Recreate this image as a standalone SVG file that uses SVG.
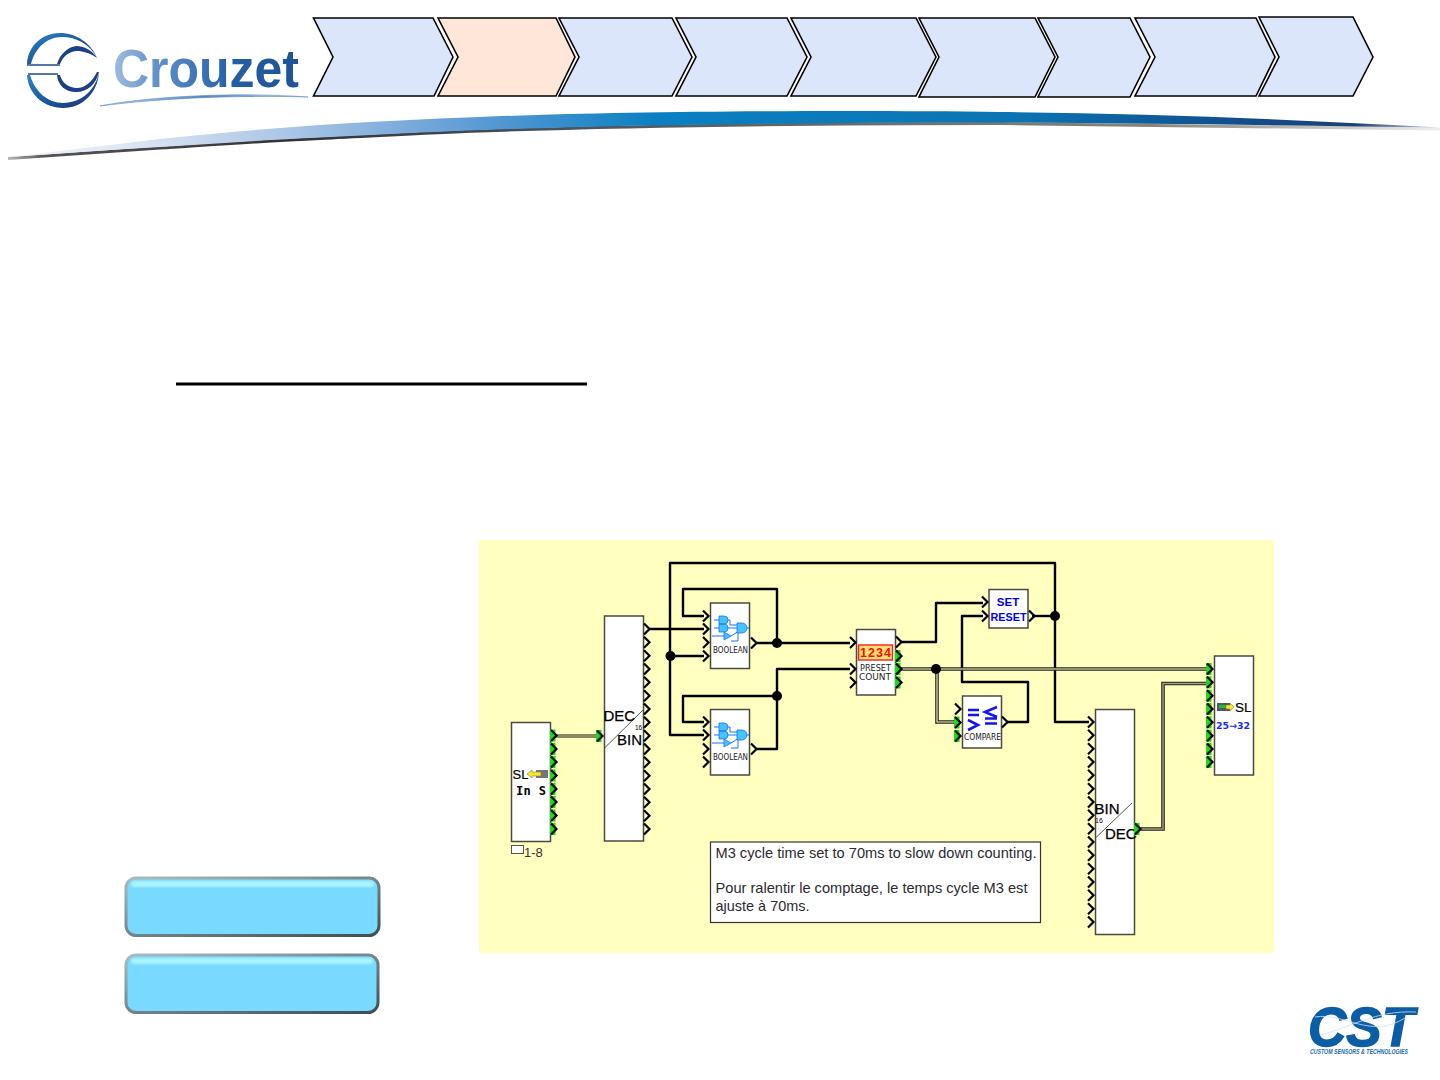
<svg xmlns="http://www.w3.org/2000/svg" width="1440" height="1080" viewBox="0 0 1440 1080">
<style>
text{font-family:"Liberation Sans",Arial,sans-serif;fill:#000}
.chev{stroke:#000;stroke-width:1.6;stroke-linejoin:miter}
.blue{fill:#DCE6FA}.peach{fill:#FEE6D9}
.blk{fill:#fff;stroke:#4a4a40;stroke-width:1.5}
.w{fill:none;stroke:#000;stroke-width:2.4;stroke-linejoin:round}
.do{fill:none;stroke:#222;stroke-width:3.6}
.dy{fill:none;stroke:#FFFFC0;stroke-width:1.1}
.dg{fill:none;stroke:#a0a078;stroke-width:1.5}
.j{fill:#000}
.ln{stroke:#555;stroke-width:1;fill:none}
.g{fill:none;stroke:#1a70ff;stroke-width:1}
.gf{fill:#45c4f8;stroke:#1a70ff;stroke-width:.8}
.bl{fill:#0000f0;font-weight:bold}
.big{font-size:15px;stroke:#000;stroke-width:.25}
.tiny{font-family:"DejaVu Sans",sans-serif;font-size:8px;fill:#222}
.note{font-size:14.3px;fill:#2a2a30}
.cmp{fill:none;stroke:#1414f0;stroke-width:2.6}
</style>
<defs>
<path id="p" d="M-3,-5.500 L2.500,0 L-3,5.500" fill="none" stroke="#000" stroke-width="2.200"/>
<g id="pg"><rect x="-4" y="-6" width="5.500" height="12" fill="#12e012"/><path d="M-3,-5.500 L2.500,0 L-3,5.500" fill="none" stroke="#000" stroke-width="2.200"/></g>
<linearGradient id="sw" x1="0" x2="1" y1="0" y2="0">
<stop offset="0" stop-color="#f4f6fa"/><stop offset=".08" stop-color="#dfe7f4"/><stop offset=".2" stop-color="#a9c4e6"/><stop offset=".33" stop-color="#5b9ad4"/><stop offset=".45" stop-color="#0a80c2"/><stop offset=".7" stop-color="#0b74b4"/><stop offset=".85" stop-color="#11508f"/><stop offset=".94" stop-color="#1c3f78"/><stop offset="1" stop-color="#d0d4dc"/>
</linearGradient>
<linearGradient id="sh" gradientUnits="userSpaceOnUse" x1="0" y1="0" x2="1440" y2="0">
<stop offset="0" stop-color="#ccc"/><stop offset=".03" stop-color="#555"/><stop offset=".2" stop-color="#333"/><stop offset=".4" stop-color="#4a5560"/><stop offset=".8" stop-color="#8a8478"/><stop offset="1" stop-color="#eee"/>
</linearGradient>
<filter id="soft" filterUnits="userSpaceOnUse" x="0" y="100" width="1440" height="70"><feGaussianBlur stdDeviation=".6"/></filter>
<filter id="soft2" x="-5%" y="-50%" width="110%" height="200%"><feGaussianBlur stdDeviation="1"/></filter>
<linearGradient id="cz" x1="0" x2="1" y1="0" y2="0">
<stop offset="0" stop-color="#a0bcde"/><stop offset=".25" stop-color="#5e8fc8"/><stop offset=".65" stop-color="#245ea4"/><stop offset="1" stop-color="#1e5494"/>
</linearGradient>
<linearGradient id="ar" x1="0" x2="1" y1="0" y2="1">
<stop offset="0" stop-color="#2f86c8"/><stop offset=".5" stop-color="#1a5aa0"/><stop offset="1" stop-color="#1c2f78"/>
</linearGradient>
<linearGradient id="zs" x1="0" x2="1" y1="0" y2="0">
<stop offset="0" stop-color="#dfe8f4"/><stop offset=".5" stop-color="#4f86c0"/><stop offset="1" stop-color="#e0e8f4"/>
</linearGradient>
<linearGradient id="bs" x1="0" x2="1" y1="0" y2="1">
<stop offset="0" stop-color="#a9bdc0"/><stop offset="1" stop-color="#3c4f52"/>
</linearGradient>
<g id="boolglyph">
<path class="g" d="M7,13H12M7,21H12M5,29H17M18,13H23V18H30M18,21H30M24,29L32,24M36,21H42M24,34H31V26"/>
<path class="gf" d="M12,9H17A4,4 0 0 1 17,17H12ZM12,17H17A4,4 0 0 1 17,25H12ZM30,16H35A5,5 0 0 1 35,26H30ZM17,25L24,29L17,33Z"/>
</g>
</defs>
<rect width="1440" height="1080" fill="#fff"/>

<g id="header-band">
<path d="M8,157.500 C60,153.500 110,150 160,147 C215,143.500 265,140 320,137.500 C375,135 425,132 480,130 C620,125 800,122.500 1000,122.500 C1150,123.500 1300,125.500 1440,128" fill="none" stroke="url(#sh)" stroke-width="3" transform="translate(0,1)" filter="url(#soft)"/>
<path d="M8,157 C60,151 110,145 160,139 C215,133 265,129 320,125 C375,121.500 425,119 480,117 C620,111 850,110 1000,112 C1150,113 1300,120 1440,127.500 C1300,125.500 1150,123.500 1000,122.500 C800,122.500 620,125 480,130 C425,132 375,135 320,137.500 C265,140 215,143.500 160,147 C110,150 60,153.500 8,157Z" fill="url(#sw)"/>
</g>

<g id="crouzet-logo">
<path d="M27,64 C28,45 43,33 60,33 C76,33 91,43 97,58 C90,44 76,37 62,37 C47,37 35,48 31,64Z" fill="url(#ar)"/>
<path d="M57,64 C60,54 68,47 76,46 C85,46 93,51 97,58 C90,53 83,51 77,51 C70,51 63,56 60,64Z" fill="#1c3f88"/>
<path d="M27,65H60M28,74H58" stroke="#1c4a88" stroke-width="1.600" fill="none"/>
<path d="M27,75 C28,94 44,108 63,108 C83,108 98,92 99,72 C96,89 82,103 63,103 C48,103 35,92 30,75Z" fill="url(#ar)"/>
<path d="M57,75 C58,86 66,92 76,92 C88,92 96,84 99,72 L97,72 C92,82 85,88 77,88 C69,88 62,83 60,75Z" fill="#1c3f88"/>
<text x="113" y="87" font-size="54" font-weight="bold" textLength="186" lengthAdjust="spacingAndGlyphs" style="fill:url(#cz)">Crouzet</text>
<path d="M100,106 C150,96 240,92 308,97 C240,95 160,98 100,106Z" fill="url(#zs)" stroke="#5a8cc4" stroke-width=".6"/>
</g>

<g id="steps">
<polygon class="chev blue" points="313.500,18 433,18 453,57 434,96 313.500,96 333,57"/>
<polygon class="chev peach" points="438,18 556,18 575,57 556,96 438,96 458,57"/>
<polygon class="chev blue" points="559,18 672,18 692,57 672,96 559,96 579,57"/>
<polygon class="chev blue" points="676,18 787,18 807,57 787,96 676,96 696,57"/>
<polygon class="chev blue" points="791,18 916,18 936,57 916,96 791,96 811,57"/>
<polygon class="chev blue" points="919,18 1035,18 1055,57 1035,97 919,97 939,57"/>
<polygon class="chev blue" points="1038,18 1130,18 1150,57 1130,97 1038,97 1058,57"/>
<polygon class="chev blue" points="1135,18 1256,18 1275,57 1256,96 1135,96 1155,57"/>
<polygon class="chev blue" points="1259,17 1353,17 1373,57 1353,96 1259,96 1279,57"/>
</g>

<rect id="title-rule" x="176" y="382.500" width="411" height="3" fill="#000"/>

<g id="button-1">
<rect x="126" y="878" width="253" height="57.500" rx="10" fill="#79d9ff" stroke="url(#bs)" stroke-width="3"/>
<rect x="131" y="881" width="243" height="6" rx="3" fill="#a8f4ff" filter="url(#soft2)"/>
</g>
<g id="button-2">
<rect x="126" y="955" width="252" height="57.500" rx="10" fill="#79d9ff" stroke="url(#bs)" stroke-width="3"/>
<rect x="131" y="958" width="242" height="6" rx="3" fill="#a8f4ff" filter="url(#soft2)"/>
</g>

<rect id="canvas" x="479" y="540" width="795" height="413" fill="#FFFFC0"/>

<g id="connectors">
<path class="w" d="M649,629H704"/>
<path class="w" d="M704,656H670M704,735H670V563H1055V722H1089"/>
<path class="w" d="M1032,616H1055"/>
<path class="w" d="M756,643H850M777,643V589H683V616H704"/>
<path class="w" d="M756,749H777V669H850M777,696H683V722H704"/>
<path class="w" d="M901,642H936V603H983"/>
<path class="w" d="M1007,722H1028V682H962V616H983"/>
<path class="dg" style="stroke:#8a8a60;stroke-width:4" d="M556,736H597"/>
<path class="do" d="M901,669H1207"/><path class="dy" d="M901,669H1207"/>
<path class="do" d="M937,669V722H955"/><path class="dy" d="M937,669V722H955"/>
<path class="do" d="M1139,829H1163V683.500H1207"/><path class="dg" d="M1139,829H1163V683.500H1207"/>
<circle class="j" cx="670.500" cy="656" r="5"/>
<circle class="j" cx="777" cy="643" r="5"/>
<circle class="j" cx="777" cy="696" r="5"/>
<circle class="j" cx="936" cy="669" r="5"/>
<circle class="j" cx="1055" cy="616" r="5"/>
</g>

<g id="node-input">
<rect class="blk" x="511.500" y="722.500" width="39" height="119"/>
<text x="512.500" y="779" font-size="13" style="stroke:#000;stroke-width:.2">SL</text>
<path d="M536,770h12v8h-12z" fill="#777"/>
<path d="M527,774l5,-4v2h9v4h-9v2z" fill="#ffe820" stroke="#776" stroke-width=".6"/>
<text x="516" y="795" font-size="12" font-weight="bold" style="font-family:'DejaVu Sans Mono',monospace" textLength="30">In S</text>
<use href="#pg" x="554" y="735.500"/><use href="#pg" x="554" y="749"/><use href="#pg" x="554" y="762"/><use href="#pg" x="554" y="775.500"/><use href="#pg" x="554" y="789"/><use href="#pg" x="554" y="802"/><use href="#pg" x="554" y="815.500"/><use href="#pg" x="554" y="829"/>
<rect x="511.500" y="845.500" width="12" height="8" fill="#fff" stroke="#555"/>
<text x="524" y="857" font-size="13" style="fill:#333">1-8</text>
</g>

<g id="node-dec-bin">
<rect class="blk" x="604.500" y="616" width="39" height="225"/>
<path class="ln" d="M604.500,748L643,710"/>
<text class="big" x="603.500" y="721">DEC</text>
<text class="big" x="617" y="745">BIN</text>
<text x="635" y="730" font-size="6.500">16</text>
<use href="#pg" x="600" y="736"/>
<use href="#p" x="647" y="629"/><use href="#p" x="647" y="642.300"/><use href="#p" x="647" y="655.700"/><use href="#p" x="647" y="669"/><use href="#p" x="647" y="682.300"/><use href="#p" x="647" y="695.700"/><use href="#p" x="647" y="709"/><use href="#p" x="647" y="722.300"/><use href="#p" x="647" y="735.700"/><use href="#p" x="647" y="749"/><use href="#p" x="647" y="762.300"/><use href="#p" x="647" y="775.700"/><use href="#p" x="647" y="789"/><use href="#p" x="647" y="802.300"/><use href="#p" x="647" y="815.700"/><use href="#p" x="647" y="829"/>
</g>

<g id="node-boolean-1">
<rect class="blk" x="710.500" y="603" width="39" height="65.500"/>
<use href="#boolglyph" x="707" y="607"/>
<text class="tiny" x="713" y="653" textLength="35" lengthAdjust="spacingAndGlyphs">BOOLEAN</text>
<use href="#p" x="706" y="616"/><use href="#p" x="706" y="629"/><use href="#p" x="706" y="642.500"/><use href="#p" x="706" y="656"/>
<use href="#p" x="754" y="643"/>
</g>

<g id="node-boolean-2">
<rect class="blk" x="710.500" y="709.500" width="39" height="65.500"/>
<use href="#boolglyph" x="707" y="714"/>
<text class="tiny" x="713" y="760" textLength="35" lengthAdjust="spacingAndGlyphs">BOOLEAN</text>
<use href="#p" x="706" y="722"/><use href="#p" x="706" y="735"/><use href="#p" x="706" y="749"/><use href="#p" x="706" y="762"/>
<use href="#p" x="754" y="749"/>
</g>

<g id="node-preset-count">
<rect class="blk" x="856.500" y="629.500" width="39" height="65.500"/>
<rect x="858.500" y="645" width="34" height="15" fill="#FFE070" stroke="#f52020" stroke-width="1.400"/>
<text x="860" y="657" font-size="12.500" font-weight="bold" textLength="31" style="fill:#f01010">1234</text>
<text class="tiny" x="860" y="671" textLength="31" lengthAdjust="spacingAndGlyphs">PRESET</text>
<text class="tiny" x="859" y="680" style="font-size:9.500px" textLength="32" lengthAdjust="spacingAndGlyphs">COUNT</text>
<use href="#p" x="853" y="642.500"/><use href="#p" x="853" y="669"/><use href="#p" x="853" y="682.500"/>
<use href="#p" x="899" y="642"/><use href="#pg" x="899" y="656"/><use href="#pg" x="899" y="669"/><use href="#pg" x="899" y="682.500"/>
</g>

<g id="node-set-reset">
<rect class="blk" x="989" y="589.500" width="39" height="38.500"/>
<text class="bl" x="1008" y="606" font-size="11.500" text-anchor="middle">SET</text>
<text class="bl" x="1008.500" y="621" font-size="11.500" text-anchor="middle" textLength="36" lengthAdjust="spacingAndGlyphs">RESET</text>
<use href="#p" x="985" y="602"/><use href="#p" x="985" y="616"/><use href="#p" x="1032" y="616"/>
</g>

<g id="node-compare">
<rect class="blk" x="962.500" y="696" width="39" height="52"/>
<path class="cmp" d="M968,710H979M968,715H979M968,720L978,725L968,730"/>
<path class="cmp" d="M997,707L985,712L997,717M985,718.500H997M985,723.500H997"/>
<text class="tiny" x="964" y="740" textLength="37" lengthAdjust="spacingAndGlyphs">COMPARE</text>
<use href="#p" x="958" y="709"/><use href="#pg" x="958" y="722.500"/><use href="#pg" x="958" y="736"/>
<use href="#p" x="1005" y="722"/>
</g>

<g id="node-bin-dec">
<rect class="blk" x="1095.500" y="709.500" width="39" height="225"/>
<path class="ln" d="M1095.500,838L1132,803"/>
<text class="big" x="1094.500" y="814">BIN</text>
<text x="1095" y="823" font-size="7">16</text>
<text class="big" x="1105" y="839">DEC</text>
<use href="#p" x="1091" y="722"/><use href="#p" x="1091" y="735.300"/><use href="#p" x="1091" y="748.700"/><use href="#p" x="1091" y="762"/><use href="#p" x="1091" y="775.300"/><use href="#p" x="1091" y="788.700"/><use href="#p" x="1091" y="802"/><use href="#p" x="1091" y="815.300"/><use href="#p" x="1091" y="828.700"/><use href="#p" x="1091" y="842"/><use href="#p" x="1091" y="855.300"/><use href="#p" x="1091" y="868.700"/><use href="#p" x="1091" y="882"/><use href="#p" x="1091" y="895.300"/><use href="#p" x="1091" y="908.700"/><use href="#p" x="1091" y="922"/>
<use href="#pg" x="1138" y="829"/>
</g>

<g id="node-output">
<rect class="blk" x="1214.500" y="656" width="39" height="119"/>
<path d="M1217,703h13v8h-13z" fill="#556"/><path d="M1219,705h8v3h-8z" fill="#1cc41c"/>
<path d="M1226,705h4v-2l4,4l-4,4v-2h-4z" fill="#ffe820" stroke="#776" stroke-width=".6"/>
<text x="1235" y="712" font-size="13.500" style="stroke:#000;stroke-width:.2">SL</text>
<text class="bl" x="1216" y="729" font-size="9.500" textLength="34" lengthAdjust="spacingAndGlyphs" style="fill:#1a2cf0;font-family:'DejaVu Sans',sans-serif">25→32</text>
<use href="#pg" x="1210" y="669"/><use href="#pg" x="1210" y="682.300"/><use href="#pg" x="1210" y="695.700"/><use href="#pg" x="1210" y="709"/><use href="#pg" x="1210" y="722.300"/><use href="#pg" x="1210" y="735.700"/><use href="#pg" x="1210" y="749"/><use href="#pg" x="1210" y="762"/>
</g>

<g id="node-note">
<rect x="710.500" y="842" width="330" height="80.500" fill="#fff" stroke="#333" stroke-width="1.200"/>
<text class="note" x="715.500" y="858" textLength="321" lengthAdjust="spacingAndGlyphs">M3 cycle time set to 70ms to slow down counting.</text>
<text class="note" x="715.500" y="893" textLength="312" lengthAdjust="spacingAndGlyphs">Pour ralentir le comptage, le temps cycle M3 est</text>
<text class="note" x="715.500" y="911" textLength="94" lengthAdjust="spacingAndGlyphs">ajuste à 70ms.</text>
</g>

<g id="cst-logo">
<text x="1308" y="1046" font-size="55" font-weight="bold" font-style="italic" textLength="106" lengthAdjust="spacingAndGlyphs" style="fill:#0b5ea6;stroke:#0b5ea6;stroke-width:1.500">CST</text>
<path d="M1315,1017C1345,1012 1370,1040 1405,1018M1320,1035C1350,1028 1375,1010 1416,1012" fill="none" stroke="#cfe0f0" stroke-width=".8"/>
<text x="1310" y="1053.500" font-size="6.500" font-weight="bold" font-style="italic" textLength="98" lengthAdjust="spacingAndGlyphs" style="fill:#1a6ab0">CUSTOM SENSORS &amp; TECHNOLOGIES</text>
</g>
</svg>
